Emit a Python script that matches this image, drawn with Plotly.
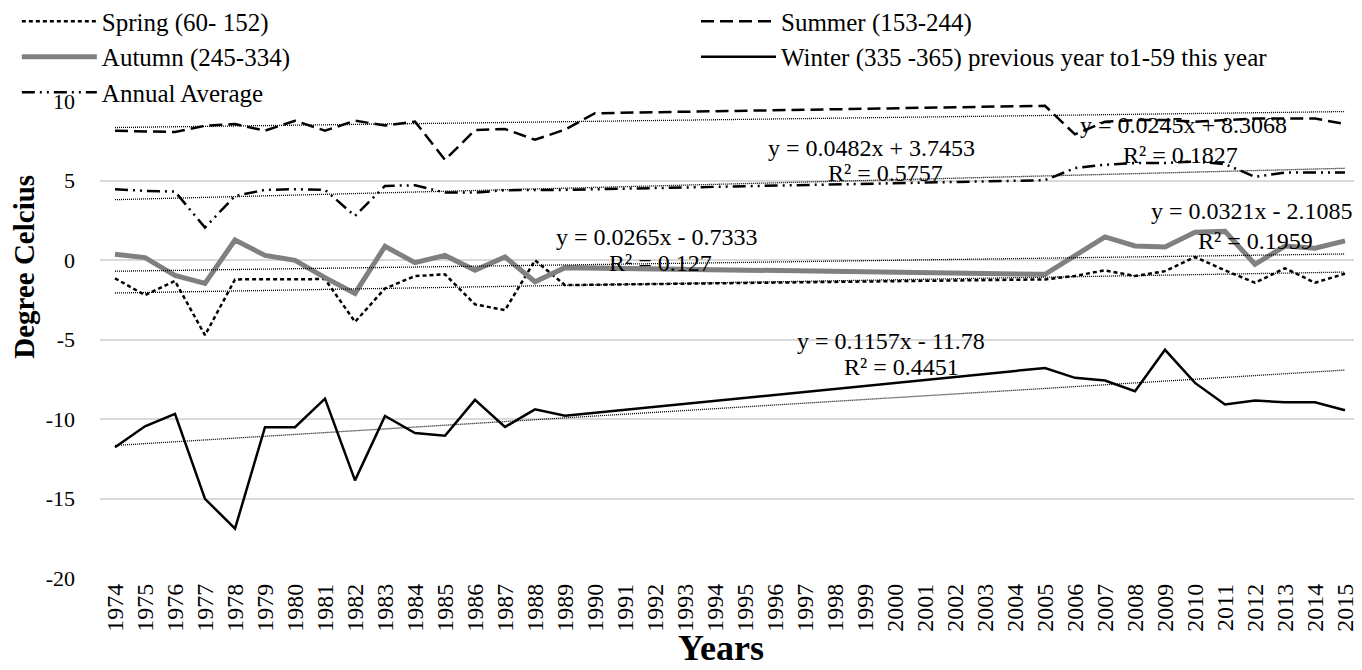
import plotly.graph_objects as go

years = list(range(1974, 2016))

# seasonal mean temperatures (deg C); None = no observation, line is carried across
spring = [-1.15, -2.21, -1.32, -4.73, -1.22, -1.2, -1.2, -1.2, -3.89, -1.79, -1.01, -0.9, -2.79, -3.15, -0.02, -1.58] \
    + [None] * 15 + [-1.22, -1.0, -0.65, -1.01, -0.7, 0.19, -0.65, -1.43, -0.52, -1.43, -0.86]
summer = [8.13, 8.09, 8.05, 8.44, 8.55, 8.13, 8.76, 8.13, 8.76, 8.46, 8.7, 6.3, 8.17, 8.24, 7.56, 8.2, 9.23] \
    + [None] * 14 + [9.7, 7.9, 8.7, 8.8, 8.8, 8.7, 8.8, 8.9, 8.9, 8.9, 8.55]
autumn = [0.36, 0.15, -0.97, -1.47, 1.26, 0.29, -0.02, -1.11, -2.1, 0.86, -0.17, 0.29, -0.65, 0.19, -1.37, -0.48] \
    + [None] * 15 + [-0.9, 0.3, 1.45, 0.88, 0.82, 1.75, 1.8, -0.27, 0.88, 0.74, 1.2]
winter = [-11.78, -10.46, -9.68, -15.02, -16.9, -10.52, -10.52, -8.72, -13.86, -9.81, -10.88, -11.05, -8.8, -10.5, -9.39, -9.8] \
    + [None] * 15 + [-6.79, -7.41, -7.58, -8.25, -5.65, -7.73, -9.09, -8.84, -8.95, -8.95, -9.45]
annual = [4.45, 4.35, 4.3, 2.04, 4.03, 4.41, 4.45, 4.41, 2.77, 4.66, 4.7, 4.24, 4.24, 4.39, 4.41, 4.41] \
    + [None] * 15 + [5.02, 5.78, 5.99, 6.1, 6.1, 6.2, 6.03, 5.23, 5.5, 5.5, 5.5]

names = ["Spring (60- 152)", "Summer (153-244)", "Autumn (245-334)",
         "Winter (335 -365) previous year to1-59 this year", "Annual Average"]
series = [spring, summer, autumn, winter, annual]
legend_col = ["legend", "legend2", "legend", "legend2", "legend"]

# linear trend lines as printed on the chart (x = 1 for 1974)
trend_slope = [0.0321, 0.0245, 0.0265, 0.1157, 0.0482]
trend_intercept = [-2.1085, 8.3068, -0.7333, -11.78, 3.7453]
trend_r2 = ["0.1959", "0.1827", "0.127", "0.4451", "0.5757"]

y_ticks = [-20, -15, -10, -5, 0, 5, 10]
y_ticktext = ["-20", "-15", "-10", "-5", "0", "5", "10"]

FONT = "Liberation Serif, Times New Roman, serif"

styles = [
    dict(color="black", width=2.5, dash="4px,3px"),
    dict(color="black", width=2.5, dash="13px,6px"),
    dict(color="#808080", width=5),
    dict(color="black", width=2.5),
    dict(color="black", width=2.5, dash="13px,5px,2px,5px,2px,5px"),
]

fig = go.Figure()
for name, vals, st, lg in zip(names, series, styles, legend_col):
    fig.add_trace(go.Scatter(x=years, y=vals, name=name, mode="lines",
                             line=st, connectgaps=True, legend=lg))

for m, b in zip(trend_slope, trend_intercept):
    xs = [years[0], years[-1]]
    ys = [m * (x - years[0] + 1) + b for x in xs]
    fig.add_trace(go.Scatter(x=xs, y=ys, mode="lines", showlegend=False,
                             line=dict(color="black", width=1.3, dash="1px,1px")))

# where the equation and R² labels sit (year, degC)
eq_pos = [(2011.9, 3.09), (2009.63, 8.46), (1992.07, 1.45), (1999.87, -5.1), (1999.23, 7.07)]
r2_pos = [(2012.0, 1.2), (2009.53, 6.63), (1992.17, -0.19), (2000.2, -6.74), (1999.67, 5.49)]
for (ex, ey), (rx, ry), m, b, r2 in zip(eq_pos, r2_pos, trend_slope, trend_intercept, trend_r2):
    sign = "+" if b >= 0 else "-"
    fig.add_annotation(x=ex, y=ey, text=f"y = {m}x {sign} {abs(b)}", showarrow=False,
                       font=dict(family=FONT, size=24, color="black"))
    fig.add_annotation(x=rx, y=ry, text=f"R² = {r2}", showarrow=False,
                       font=dict(family=FONT, size=24, color="black"))

# axis titles as annotations so they don't shift the plot area
fig.add_annotation(x=0.493, y=-0.147, xref="paper", yref="paper", text="<b>Years</b>",
                   xanchor="center", yanchor="middle",
                   showarrow=False, font=dict(family=FONT, size=36))
fig.add_annotation(x=-0.0605, y=0.652, xref="paper", yref="paper", text="<b>Degree Celcius</b>",
                   xanchor="center", yanchor="middle",
                   textangle=-90, showarrow=False, font=dict(family=FONT, size=29))

legend_style = dict(orientation="v", xanchor="left", yanchor="top", y=1.215,
                    font=dict(family=FONT, size=25), bgcolor="rgba(0,0,0,0)",
                    itemwidth=75, tracegroupgap=0)

# page body adds 8px, so the canvas is 8px smaller than the window
fig.update_layout(
    width=1354, height=662,
    margin=dict(l=92, r=2, t=93, b=92, autoexpand=False),
    plot_bgcolor="white", paper_bgcolor="white",
    font=dict(family=FONT, color="black"),
    legend=dict(x=-0.066, **legend_style),
    legend2=dict(x=0.473, **legend_style),
    xaxis=dict(range=[1973.5, 2015.5], tickmode="array", tickvals=years,
               ticktext=[str(y) for y in years], tickangle=-90, automargin=False,
               tickfont=dict(family=FONT, size=24), showgrid=False, zeroline=False,
               showline=False, ticks=""),
    yaxis=dict(range=[-20, 10], tickmode="array", tickvals=y_ticks, ticktext=y_ticktext,
               tickfont=dict(family=FONT, size=22), showgrid=True, automargin=False,
               gridcolor="#d9d9d9", gridwidth=1.5, zeroline=False, showline=False,
               ticks="", ticklabelstandoff=24),
)

fig.write_html("out.html")
